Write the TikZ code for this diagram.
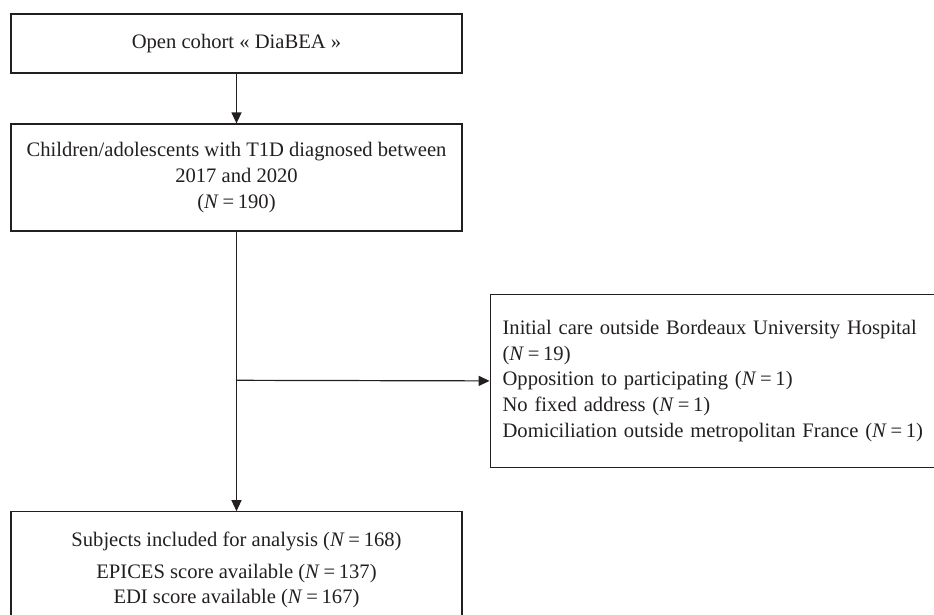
\documentclass[tikz,border=0pt]{standalone}
\usepackage{fontspec}
\setmainfont{Liberation Serif}
\usetikzlibrary{arrows.meta}
\definecolor{linec}{RGB}{35,31,32}
\newcommand{\eqN}[1]{(\textit{N}\hspace{0.18em}=\hspace{0.18em}#1)}
\begin{document}
\begin{tikzpicture}[x=1pt,y=-1pt,
  box/.style={draw=linec, text=linec, line width=1.2pt, rectangle, inner sep=0pt,
    font=\fontsize{20.6}{25.6}\selectfont, align=center},
  conn/.style={draw=linec, line width=1.2pt, -{Triangle[length=11pt,width=10pt]}}]
\useasboundingbox (0,0) rectangle (934,614);
\node[box, minimum width=451pt, minimum height=59pt] (top) at (236.5,43.5) {Open cohort « DiaBEA »};
\node[box, minimum width=451pt, minimum height=107pt] (mid) at (236.5,177.5)
  {Children/adolescents with T1D diagnosed between\\2017 and 2020\\\eqN{190}};
\node[box, minimum width=451pt, minimum height=117pt] (bot) at (236.5,570.3)
  {Subjects included for analysis \eqN{168}\\[6pt]EPICES score available \eqN{137}\\EDI score available \eqN{167}};
\node[box, align=left, anchor=north west, text width=440pt, inner xsep=12.4pt, minimum height=173.4pt] (excl) at (489.6,293.6)
  {Initial care outside Bordeaux University Hospital\\\eqN{19}\\Opposition to participating \eqN{1}\\No fixed address \eqN{1}\\Domiciliation outside metropolitan France \eqN{1}};
\draw[conn] (top) -- (mid);
\draw[conn] (mid) -- (bot);
\coordinate (br) at (236.5,380.3);
\draw[conn] (br) -- (excl.west);
\end{tikzpicture}
\end{document}
